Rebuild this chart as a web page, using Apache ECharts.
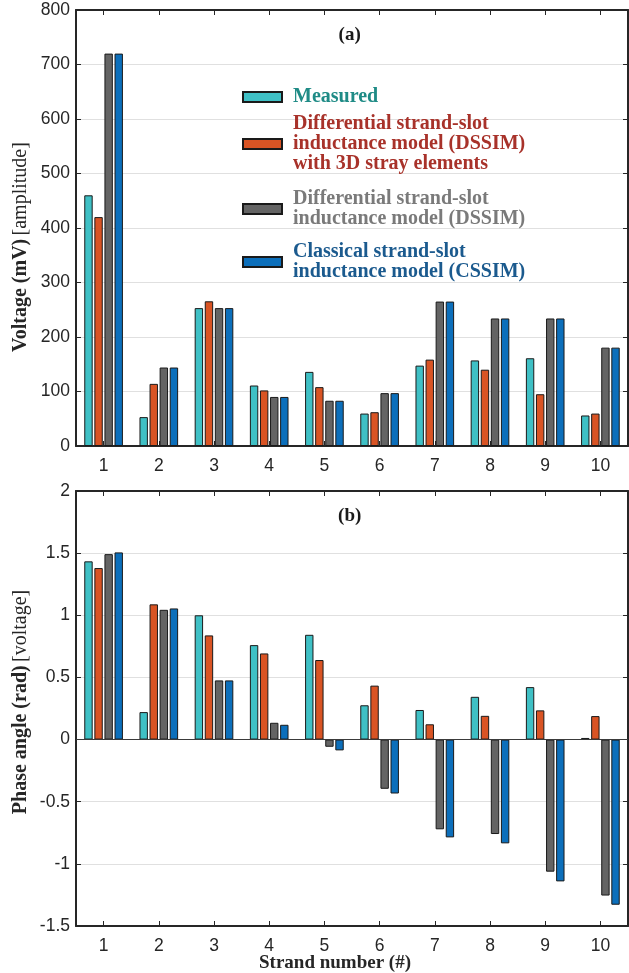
<!DOCTYPE html>
<html>
<head>
<meta charset="utf-8">
<script src="https://cdn.jsdelivr.net/npm/echarts@6/dist/echarts.min.js"></script>
<style>
  html, body { margin: 0; padding: 0; background: #ffffff; }
  #chart { width: 629px; height: 973px; }
</style>
</head>
<body>
<div id="chart"></div>
<script>
// Strand numbers on the shared category axis
const strands = ['1', '2', '3', '4', '5', '6', '7', '8', '9', '10'];

// Series names (legend entries)
const nameMeasured = 'Measured';
const nameDssim3d = 'Differential strand-slot\ninductance model (DSSIM)\nwith 3D stray elements';
const nameDssim = 'Differential strand-slot\ninductance model (DSSIM)';
const nameCssim = 'Classical strand-slot\ninductance model (CSSIM)';

// (a) Voltage amplitude, mV
const ampMeasured = [460, 53, 253, 111, 136, 59.5, 147.5, 157, 161, 56];
const ampDssim3d  = [420, 114, 265.5, 102, 108, 62, 158.5, 140, 95, 59.5];
const ampDssim    = [720, 144, 253, 90, 83, 97, 265, 234, 234, 180.5];
const ampCssim    = [720, 144, 253, 90, 83, 97, 265, 234, 234, 180.5];

// (b) Voltage phase angle, rad
const phMeasured = [1.434, 0.221, 1.0, 0.76, 0.843, 0.276, 0.238, 0.344, 0.422, 0.013];
const phDssim3d  = [1.38, 1.088, 0.838, 0.693, 0.64, 0.434, 0.123, 0.191, 0.235, 0.189];
const phDssim    = [1.492, 1.044, 0.476, 0.135, -0.058, -0.396, -0.722, -0.76, -1.063, -1.255];
const phCssim    = [1.506, 1.055, 0.476, 0.119, -0.087, -0.434, -0.787, -0.835, -1.141, -1.329];

const colors = {
  measured: '#3fc0c5',
  dssim3d: '#d95424',
  dssim: '#646464',
  cssim: '#0c6fbb'
};
const legendColors = {
  measured: '#1f8b86',
  dssim3d: '#a8322a',
  dssim: '#7a7a7a',
  cssim: '#1b5a8e'
};

const SANS = 'Arial, "Liberation Sans", Helvetica, sans-serif';
const SERIF = '"Times New Roman", "Liberation Serif", serif';
const AXIS_COLOR = '#262626';

const chart = echarts.init(document.getElementById('chart'), null, { renderer: 'canvas' });

function catAxis(gridIndex, position, showLabels) {
  return {
    type: 'category',
    gridIndex: gridIndex,
    position: position,
    data: strands,
    boundaryGap: true,
    axisLine: { show: true, onZero: false, lineStyle: { color: AXIS_COLOR, width: 2 } },
    axisTick: { show: true, inside: true, alignWithLabel: true, length: 5, lineStyle: { color: AXIS_COLOR, width: 1 } },
    axisLabel: { show: showLabels, color: AXIS_COLOR, fontFamily: SANS, fontSize: 17.5, margin: 11 },
    splitLine: { show: false }
  };
}

function valAxis(gridIndex, position, min, max, interval, showLabels) {
  return {
    type: 'value',
    gridIndex: gridIndex,
    position: position,
    min: min,
    max: max,
    interval: interval,
    axisLine: { show: true, onZero: false, lineStyle: { color: AXIS_COLOR, width: 2 } },
    axisTick: { show: true, inside: true, length: 5, lineStyle: { color: AXIS_COLOR, width: 1 } },
    axisLabel: { show: showLabels, color: AXIS_COLOR, fontFamily: SANS, fontSize: 17.5, margin: 6 },
    splitLine: { show: showLabels, lineStyle: { color: '#e0e0e0', width: 1 } }
  };
}

function barSeries(name, data, color, xIdx, yIdx, extra) {
  return Object.assign({
    type: 'bar',
    name: name,
    data: data,
    xAxisIndex: xIdx,
    yAxisIndex: yIdx,
    barWidth: 8.4,
    barGap: '20%',
    itemStyle: { color: color, borderColor: '#1a1a1a', borderWidth: 1 },
    emphasis: { disabled: true },
    animation: false
  }, extra || {});
}

function legendBlock(name, textColor, top) {
  return {
    data: [{ name: name, textStyle: { color: textColor } }],
    left: 242,
    top: top,
    orient: 'vertical',
    icon: 'rect',
    itemWidth: 39,
    itemHeight: 10,
    padding: 0,
    selectedMode: false,
    textStyle: {
      fontFamily: SERIF,
      fontWeight: 'bold',
      fontSize: 20,
      lineHeight: 20,
      padding: [0, 0, 0, 6]
    }
  };
}

const option = {
  backgroundColor: '#ffffff',
  animation: false,
  grid: [
    { left: 76, right: 1, top: 10, height: 436 },
    { left: 76, right: 1, top: 491, height: 435 }
  ],
  xAxis: [
    catAxis(0, 'bottom', true),
    catAxis(0, 'top', false),
    catAxis(1, 'bottom', true),
    catAxis(1, 'top', false)
  ],
  yAxis: [
    valAxis(0, 'left', 0, 800, 100, true),
    valAxis(0, 'right', 0, 800, 100, false),
    valAxis(1, 'left', -1.5, 2, 0.5, true),
    valAxis(1, 'right', -1.5, 2, 0.5, false)
  ],
  legend: [
    legendBlock(nameMeasured, legendColors.measured, 87),
    legendBlock(nameDssim3d, legendColors.dssim3d, 114),
    legendBlock(nameDssim, legendColors.dssim, 189),
    legendBlock(nameCssim, legendColors.cssim, 242)
  ],
  series: [
    barSeries(nameMeasured, ampMeasured, colors.measured, 0, 0),
    barSeries(nameDssim3d, ampDssim3d, colors.dssim3d, 0, 0),
    barSeries(nameDssim, ampDssim, colors.dssim, 0, 0),
    barSeries(nameCssim, ampCssim, colors.cssim, 0, 0),
    barSeries(nameMeasured, phMeasured, colors.measured, 2, 2, {
      markLine: {
        silent: true,
        symbol: 'none',
        label: { show: false },
        lineStyle: { color: '#3a3a3a', width: 1, type: 'solid' },
        data: [{ yAxis: 0 }],
        animation: false
      }
    }),
    barSeries(nameDssim3d, phDssim3d, colors.dssim3d, 2, 2),
    barSeries(nameDssim, phDssim, colors.dssim, 2, 2),
    barSeries(nameCssim, phCssim, colors.cssim, 2, 2)
  ],
  graphic: [
    {
      type: 'text', x: 349.7, y: 35, silent: true,
      style: { text: '(a)', fill: '#1a1a1a', font: 'bold 19px ' + SERIF, align: 'center', verticalAlign: 'middle' }
    },
    {
      type: 'text', x: 349.7, y: 516.5, silent: true,
      style: { text: '(b)', fill: '#1a1a1a', font: 'bold 19px ' + SERIF, align: 'center', verticalAlign: 'middle' }
    },
    {
      type: 'text', x: 21, y: 247, rotation: Math.PI / 2, silent: true,
      style: {
        text: '{b|Voltage (mV)} {r|[amplitude]}',
        align: 'center', verticalAlign: 'middle',
        rich: {
          b: { fontFamily: SERIF, fontWeight: 'bold', fontSize: 20, fill: '#262626' },
          r: { fontFamily: SERIF, fontWeight: 'normal', fontSize: 20, fill: '#262626' }
        }
      }
    },
    {
      type: 'text', x: 21, y: 702, rotation: Math.PI / 2, silent: true,
      style: {
        text: '{b|Phase angle (rad)} {r|[voltage]}',
        align: 'center', verticalAlign: 'middle',
        rich: {
          b: { fontFamily: SERIF, fontWeight: 'bold', fontSize: 20, fill: '#262626' },
          r: { fontFamily: SERIF, fontWeight: 'normal', fontSize: 20, fill: '#262626' }
        }
      }
    },
    {
      type: 'text', x: 335, y: 963, silent: true,
      style: { text: 'Strand number (#)', fill: '#262626', font: 'bold 19px ' + SERIF, align: 'center', verticalAlign: 'middle' }
    }
  ]
};

chart.setOption(option);
</script>
</body>
</html>
